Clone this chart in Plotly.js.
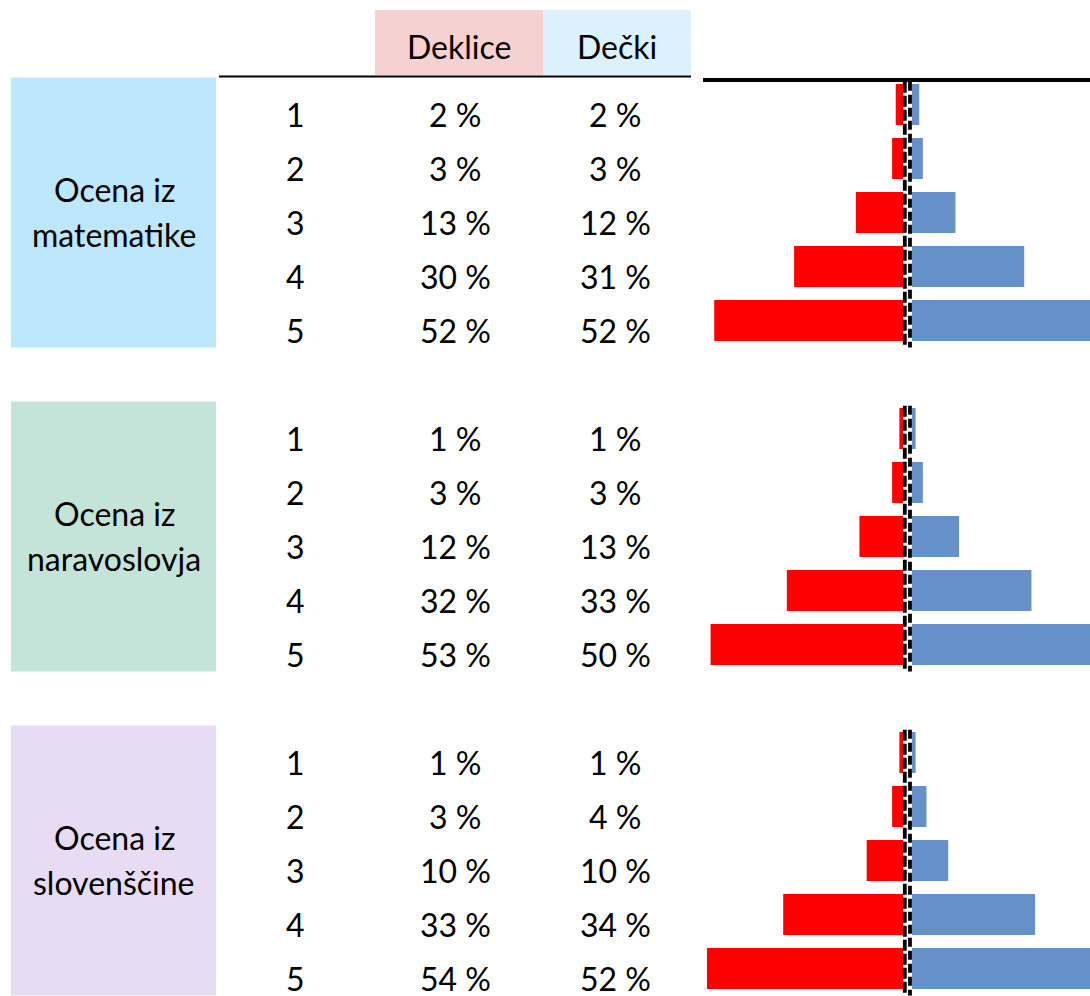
<!DOCTYPE html>
<html>
<head>
<meta charset="utf-8">
<script src="https://cdn.plot.ly/plotly-3.0.1.min.js"></script>
<style>html,body{margin:0;padding:0;background:#fff;}#chart{width:1090px;height:996px;}</style>
</head>
<body>
<div id="chart"></div>
<script>
// ---- data ----
var groups = ["matematike", "naravoslovja", "slovenščine"];
var groupLine1 = ["Ocena iz", "Ocena iz", "Ocena iz"];
var grades = ["1", "2", "3", "4", "5"];
var deklice = [
  [2, 3, 13, 30, 52],
  [1, 3, 12, 32, 53],
  [1, 3, 10, 33, 54]
];
var decki = [
  [2, 3, 12, 31, 52],
  [1, 3, 13, 33, 50],
  [1, 4, 10, 34, 52]
];
var headerLabels = ["Deklice", "Dečki"];
var groupColors = ["#BCE7FC", "#C4E4D9", "#E8DCF4"];
var headerColors = ["#F5D1D0", "#DBF2FC"];
var redColor = "#FF0000";
var blueColor = "#6690C8";

// ---- layout helpers ----
var W = 1090, H = 996;
var px = function (x) { return x / W; };
var FONT = "Lato, 'Open Sans', sans-serif";
var FS = 32;
var txt = function (o) {
  o.showarrow = false; o.xanchor = "center"; o.yanchor = "middle"; o.borderpad = 0;
  o.font = {family: FONT, size: FS, color: "#000"};
  return o;
};

var yPos = [], xRed = [], xBlue = [];
var annotations = [];
var shapes = [];
groups.forEach(function (g, gi) {
  var base = gi * 6;
  shapes.push({type: "rect", layer: "below", xref: "paper", yref: "y",
    x0: px(11), x1: px(216), y0: base - 0.5, y1: base + 4.5,
    fillcolor: groupColors[gi], line: {width: 0}});
  [904.8, 910].forEach(function (xx, k) {
    shapes.push({type: "line", layer: "above", xref: "paper", yref: "y",
      x0: px(xx), x1: px(xx), y0: base - 0.42, y1: base + 4.5,
      line: {color: "#000", width: 3.8, dash: k === 0 ? "11px,3px" : "9px,4px"}});
  });
  annotations.push(txt({xref: "paper", yref: "y", x: px(114), y: base + 2,
    text: groupLine1[gi], yshift: 23}));
  annotations.push(txt({xref: "paper", yref: "y", x: px(114), y: base + 2,
    text: g, yshift: -22}));
  grades.forEach(function (gr, ri) {
    var p = base + ri;
    yPos.push(p);
    xRed.push(deklice[gi][ri]);
    xBlue.push(decki[gi][ri]);
    annotations.push(txt({xref: "paper", yref: "y", x: px(295), y: p, yshift: -10, text: gr}));
    annotations.push(txt({xref: "paper", yref: "y", x: px(455), y: p, yshift: -10,
      text: deklice[gi][ri] + " %"}));
    annotations.push(txt({xref: "paper", yref: "y", x: px(615), y: p, yshift: -10,
      text: decki[gi][ri] + " %"}));
  });
});

// header
shapes.push({type: "rect", layer: "below", xref: "paper", yref: "paper",
  x0: px(375), x1: px(543), y0: 1 - 75 / H, y1: 1 - 10 / H,
  fillcolor: headerColors[0], line: {width: 0}});
shapes.push({type: "rect", layer: "below", xref: "paper", yref: "paper",
  x0: px(543), x1: px(691), y0: 1 - 75 / H, y1: 1 - 10 / H,
  fillcolor: headerColors[1], line: {width: 0}});
shapes.push({type: "line", xref: "paper", yref: "paper",
  x0: px(219), x1: px(691), y0: 1 - 76.5 / H, y1: 1 - 76.5 / H,
  line: {color: "#000", width: 2}});
shapes.push({type: "line", xref: "paper", yref: "paper",
  x0: px(703), x1: 1, y0: 1 - 80 / H, y1: 1 - 80 / H,
  line: {color: "#000", width: 4}});
annotations.push(txt({xref: "paper", yref: "paper", x: px(459), y: 1 - 46 / H, text: headerLabels[0]}));
annotations.push(txt({xref: "paper", yref: "paper", x: px(617), y: 1 - 46 / H, text: headerLabels[1]}));

var redPxPerPct = 3.63, bluePxPerPct = 3.62;
var redZero = 903, redLeft = 654, blueZero = 912;

var traces = [
  {type: "bar", orientation: "h", x: xRed, y: yPos, xaxis: "x", yaxis: "y",
    width: 0.76, marker: {color: redColor}, hoverinfo: "skip"},
  {type: "bar", orientation: "h", x: xBlue, y: yPos, xaxis: "x2", yaxis: "y",
    width: 0.76, marker: {color: blueColor}, hoverinfo: "skip"}
];

var rowPx = 54, firstRowPx = 104.5;
var layout = {
  width: W, height: H,
  margin: {l: 0, r: 0, t: 0, b: 0, pad: 0},
  paper_bgcolor: "#fff", plot_bgcolor: "rgba(0,0,0,0)",
  showlegend: false,
  xaxis: {domain: [px(redLeft), px(redZero)], range: [(redZero - redLeft) / redPxPerPct, 0],
    visible: false, showgrid: false, zeroline: false, fixedrange: true},
  xaxis2: {domain: [px(blueZero), 1], range: [0, (W - blueZero) / bluePxPerPct], anchor: "y",
    visible: false, showgrid: false, zeroline: false, fixedrange: true},
  yaxis: {domain: [0, 1], range: [(H - firstRowPx) / rowPx, -firstRowPx / rowPx],
    visible: false, showgrid: false, zeroline: false, fixedrange: true},
  shapes: shapes,
  annotations: annotations
};

Plotly.newPlot("chart", traces, layout, {displayModeBar: false, staticPlot: true});
</script>
</body>
</html>
